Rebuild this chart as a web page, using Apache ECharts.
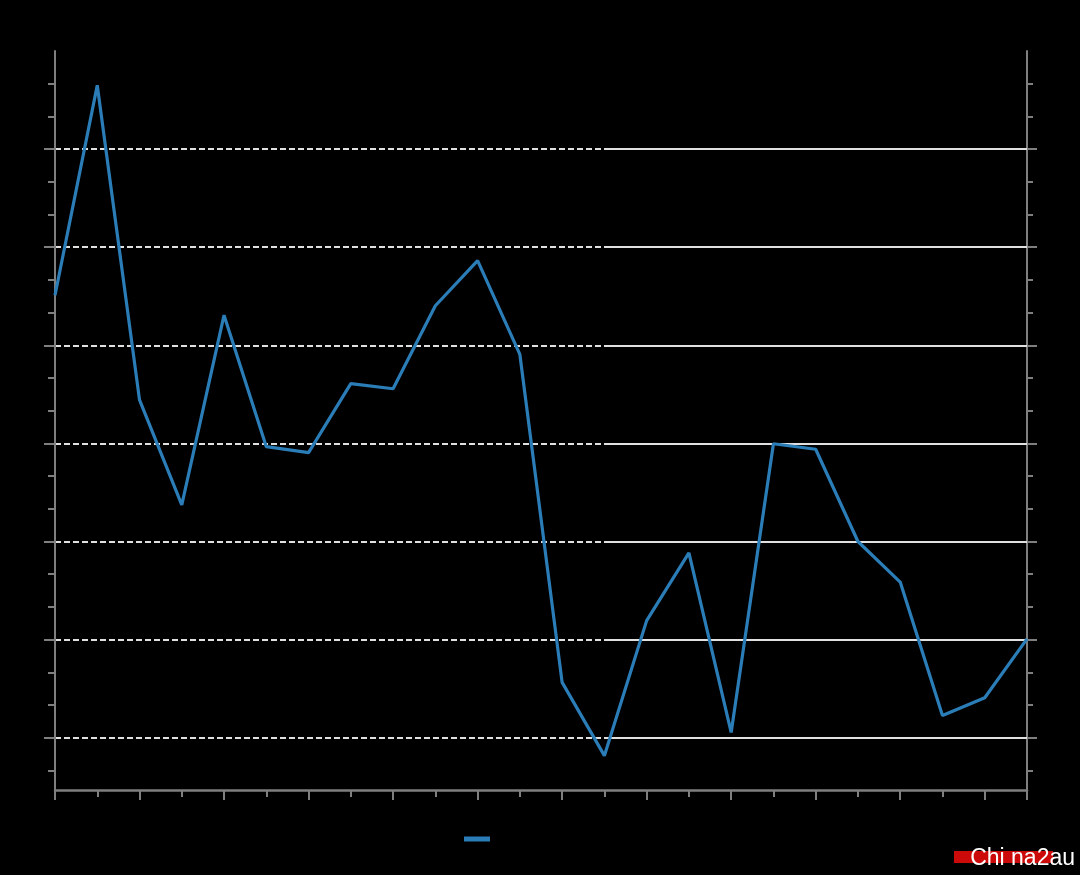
<!DOCTYPE html>
<html>
<head>
<meta charset="utf-8">
<style>
  html, body { margin: 0; padding: 0; background: #000; }
  #chart { width: 1080px; height: 875px; }
</style>
<script src="https://cdn.jsdelivr.net/npm/echarts@6/dist/echarts.min.js"></script>
</head>
<body>
<div id="chart"></div>
<script>
// Categories (24 periods, labels not legible in the reference)
const categories = ['1','2','3','4','5','6','7','8','9','10','11','12',
                    '13','14','15','16','17','18','19','20','21','22','23','24'];
// Series values, read as tick units measured downward from the top of the axis
const seriesValues = [7.47, 1.05, 10.67, 13.88, 8.08, 12.1, 12.28, 10.17, 10.33, 7.79, 6.41, 9.28,
                      19.31, 21.55, 17.42, 15.35, 20.84, 12.01, 12.18, 15.0, 16.24, 20.32, 19.78, 17.98];
// Major gridline / tick values and minor tick values
const gridValues = [3, 6, 9, 12, 15, 18, 21];
const minorTickValues = [1, 2, 4, 5, 7, 8, 10, 11, 13, 14, 16, 17, 19, 20, 22];
const seriesName = '系列';
const solidFromCategory = '14';
const watermark = 'Chi na2au';

const axisGray = '#7f7f7f';
const gridColor = '#e0e0e0';
const lineBlue = '#2b7db8';

const chart = echarts.init(document.getElementById('chart'));
const yBase = { type: 'value', inverse: true, min: 0, max: 22.6, axisLabel: { show: false } };
const nCat = categories.length;

chart.setOption({
  backgroundColor: '#000000',
  animation: false,
  grid: { left: 55, right: 53, top: 51, bottom: 85, containLabel: false },
  legend: {
    left: 464, top: 832, padding: 0,
    itemWidth: 26, itemHeight: 5, icon: 'rect',
    textStyle: { color: '#000000', fontSize: 14 },
    data: [seriesName]
  },
  title: {
    text: watermark, right: 5, top: 847, padding: 0,
    textStyle: { color: '#ffffff', fontSize: 23, fontWeight: 'normal', fontFamily: 'Liberation Sans, Arial, sans-serif' }
  },
  graphic: [{
    type: 'rect', right: 27, top: 851, z: -1,
    shape: { width: 99, height: 12 },
    style: { fill: '#cc0a0a' }
  }],
  xAxis: [
    {
      type: 'category', data: categories, boundaryGap: false, position: 'bottom',
      axisLine: { onZero: false, lineStyle: { color: axisGray, width: 2.5 } },
      axisTick: { interval: 0, length: 7, lineStyle: { color: axisGray, width: 2 } },
      axisLabel: { show: false }, splitLine: { show: false }
    },
    {
      type: 'category', data: categories, boundaryGap: false, position: 'bottom',
      axisLine: { show: false, onZero: false },
      axisTick: { interval: (i) => i % 2 === 0 || i === nCat - 1, length: 10,
        lineStyle: { color: axisGray, width: 2 } },
      axisLabel: { show: false }, splitLine: { show: false }
    }
  ],
  yAxis: [
    Object.assign({}, yBase, {
      position: 'left', interval: 1,
      axisLine: { show: true, onZero: false, lineStyle: { color: axisGray, width: 2 } },
      axisTick: { show: true, length: 7, customValues: minorTickValues, lineStyle: { color: axisGray, width: 2 } },
      splitLine: { show: false }
    }),
    Object.assign({}, yBase, {
      position: 'left', interval: 3,
      axisLine: { show: false, onZero: false },
      axisTick: { show: true, length: 11, customValues: gridValues, lineStyle: { color: axisGray, width: 2 } },
      splitLine: { show: true, showMinLine: true, showMaxLine: true,
        lineStyle: { color: gridColor, width: 2, type: [6, 3] } }
    }),
    Object.assign({}, yBase, {
      position: 'right', interval: 1,
      axisLine: { show: true, onZero: false, lineStyle: { color: axisGray, width: 2 } },
      axisTick: { show: true, length: 6, customValues: minorTickValues, lineStyle: { color: axisGray, width: 2 } },
      splitLine: { show: false }
    }),
    Object.assign({}, yBase, {
      position: 'right', interval: 3,
      axisLine: { show: false, onZero: false },
      axisTick: { show: true, length: 10, customValues: gridValues, lineStyle: { color: axisGray, width: 2 } },
      splitLine: { show: false }
    })
  ],
  series: [
    {
      name: 'gridSolid', type: 'line', xAxisIndex: 0, yAxisIndex: 0, data: [], z: 1,
      silent: true, legendHoverLink: false,
      markLine: {
        silent: true, symbol: ['none', 'none'], label: { show: false },
        lineStyle: { color: gridColor, width: 2, type: 'solid' },
        emphasis: { disabled: true },
        data: gridValues.map(v => [
          { coord: [solidFromCategory, v] },
          { coord: [categories[nCat - 1], v] }
        ])
      }
    },
    {
      name: seriesName, type: 'line', xAxisIndex: 0, yAxisIndex: 0, z: 5,
      data: seriesValues, showSymbol: false, symbol: 'none',
      lineStyle: { color: lineBlue, width: 3.2 },
      itemStyle: { color: lineBlue }
    }
  ]
});
</script>
</body>
</html>
